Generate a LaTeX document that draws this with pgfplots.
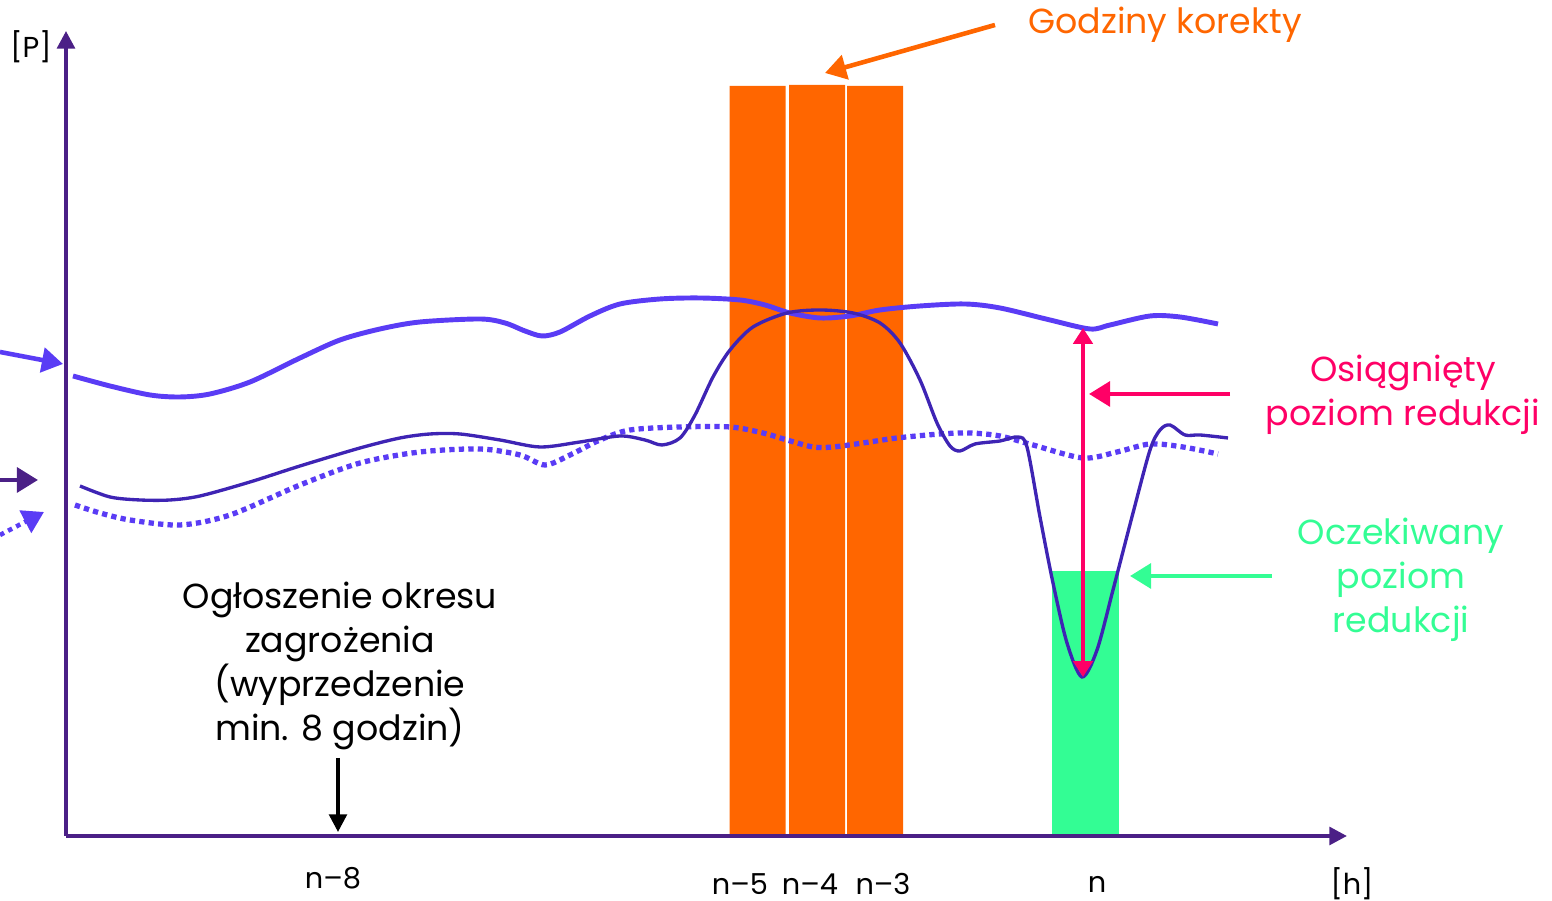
\documentclass[border=0pt]{standalone}
\usepackage{pgfplots}
\pgfplotsset{compat=1.18}
\usetikzlibrary{arrows.meta}
\usepackage{fontspec}
\setmainfont{Poppins}
\definecolor{axpurple}{RGB}{75,32,134}
\definecolor{vbright}{RGB}{90,60,245}
\definecolor{vdark}{RGB}{62,36,180}
\definecolor{corange}{RGB}{255,102,0}
\definecolor{cgreen}{RGB}{51,253,148}
\definecolor{cpink}{RGB}{255,0,102}
\begin{document}
\begin{tikzpicture}
\fontsize{9.9}{12.6}\selectfont
\begin{axis}[
  scale only axis, width=15.52cm, height=9.01cm,
  xmin=-66, xmax=1486, ymin=-65, ymax=836,
  hide axis, clip=false,
]
\coordinate (BL) at (axis cs:-66,-65);
\coordinate (TR) at (axis cs:1486,836);
% bars
\addplot[ybar, bar width=56, bar shift=0pt, fill=corange, draw=none] coordinates {(691.5,750) (751,751) (809,750)};
\addplot[ybar, bar width=67, bar shift=0pt, fill=cgreen, draw=none] coordinates {(1019.5,265)};
% axes
\draw[axpurple, line width=1.1pt, -{Triangle[length=5pt,width=5pt]}] (axis cs:0,0) -- (axis cs:0,805);
\draw[axpurple, line width=1.1pt, -{Triangle[length=5pt,width=5pt]}] (axis cs:0,0) -- (axis cs:1281,0);
% top thick line
\addplot[vbright, line width=1.4pt, smooth, tension=0.5] coordinates {
(7,460) (44,450) (84,441) (114,439) (144,442) (184,454) (234,478) (274,496) (314,507) (354,514) (414,517) (439,513) (459,505) (476,500) (494,504) (524,520) (554,532) (594,537) (634,538) (674,536) (699,531) (724,523) (754,518) (784,520) (814,526) (854,530) (899,532) (934,528) (984,516) (1024,507) (1044,511) (1084,520) (1114,519) (1152,512)};
% dotted line
\addplot[vbright, line width=1.5pt, dash pattern=on 1.5pt off 1.2pt, smooth, tension=0.5] coordinates {
(9,331) (34,323) (64,316) (114,311) (164,321) (234,351) (294,373) (354,384) (414,387) (454,381) (479,371) (504,381) (534,396) (564,406) (614,409) (664,409) (697,403) (721,396) (747,389) (767,389) (797,393) (831,398) (874,402) (904,403) (934,400) (967,391) (1017,378) (1051,384) (1084,392) (1117,389) (1152,382)};
% dark line with dip
\addplot[vdark, line width=0.95pt, smooth, tension=0.5] coordinates {
(14,350) (44,339) (74,336) (104,336) (134,340) (184,354) (234,370) (294,388) (334,398) (364,402) (394,402) (434,396) (474,389) (514,394) (554,400) (579,396) (596,391) (614,398) (629,421) (647,459) (664,486) (687,509) (721,523) (754,526) (787,523) (814,513) (834,493) (854,456) (871,413) (884,390) (894,385) (909,392) (934,395) (952,399) (961,389) (974,319) (987,253) (1001,193) (1016,159) (1031,186) (1047,246) (1067,323) (1084,386) (1094,406) (1104,411) (1119,401) (1134,401) (1162,398)};
% left arrows
\draw[vbright, line width=1.3pt, -{Triangle[length=6pt,width=7pt]}] (axis cs:-66,484) -- (axis cs:-3,472);
\draw[axpurple, line width=1.3pt, -{Triangle[length=6pt,width=7pt]}] (axis cs:-66,356) -- (axis cs:-28,356);
\draw[vbright, line width=1.3pt, dash pattern=on 1.3pt off 1.3pt, -{Triangle[length=6pt,width=7pt]}] (axis cs:-66,301) -- (axis cs:-22,324);
% orange annotation
\draw[corange, line width=1.3pt, -{Triangle[length=6pt,width=7pt]}] (axis cs:929,811) -- (axis cs:759,763);
\node[corange, anchor=center] at (axis cs:1099,811) {Godziny korekty};
% pink annotation
\draw[cpink, line width=1.0pt, {Triangle[length=4.5pt,width=5.5pt]}-{Triangle[length=4.5pt,width=5.5pt]}] (axis cs:1017,508) -- (axis cs:1017,159);
\draw[cpink, line width=1.3pt, -{Triangle[length=6pt,width=7pt]}] (axis cs:1164,442) -- (axis cs:1023,442);
\node[cpink, align=center, anchor=center] at (axis cs:1337,441) {Osiągnięty\\poziom redukcji};
% green annotation
\draw[cgreen, line width=1.3pt, -{Triangle[length=6pt,width=7pt]}] (axis cs:1206,260) -- (axis cs:1064,260);
\node[cgreen, align=center, anchor=center] at (axis cs:1335,256) {Oczekiwany\\poziom\\redukcji};
% black annotation
\draw[black, line width=1.0pt, -{Triangle[length=5pt,width=5pt]}] (axis cs:272,78) -- (axis cs:272,4);
\node[black, align=center, anchor=center] at (axis cs:274,170) {Ogłoszenie okresu\\zagrożenia\\(wyprzedzenie\\min. 8 godzin)};
% tick labels
\begin{scope}[font=\fontsize{8.2}{10}\selectfont]
\node at (axis cs:267,-42) {n--8};
\node at (axis cs:674,-48) {n--5};
\node at (axis cs:744,-48) {n--4};
\node at (axis cs:817,-48) {n--3};
\node at (axis cs:1031,-48) {n};
\node at (axis cs:1286,-48) {[h]};
\node at (axis cs:-35,789) {[P]};
\end{scope}
\end{axis}
\pgfresetboundingbox
\path[use as bounding box] (BL) rectangle (TR);
\end{tikzpicture}
\end{document}
